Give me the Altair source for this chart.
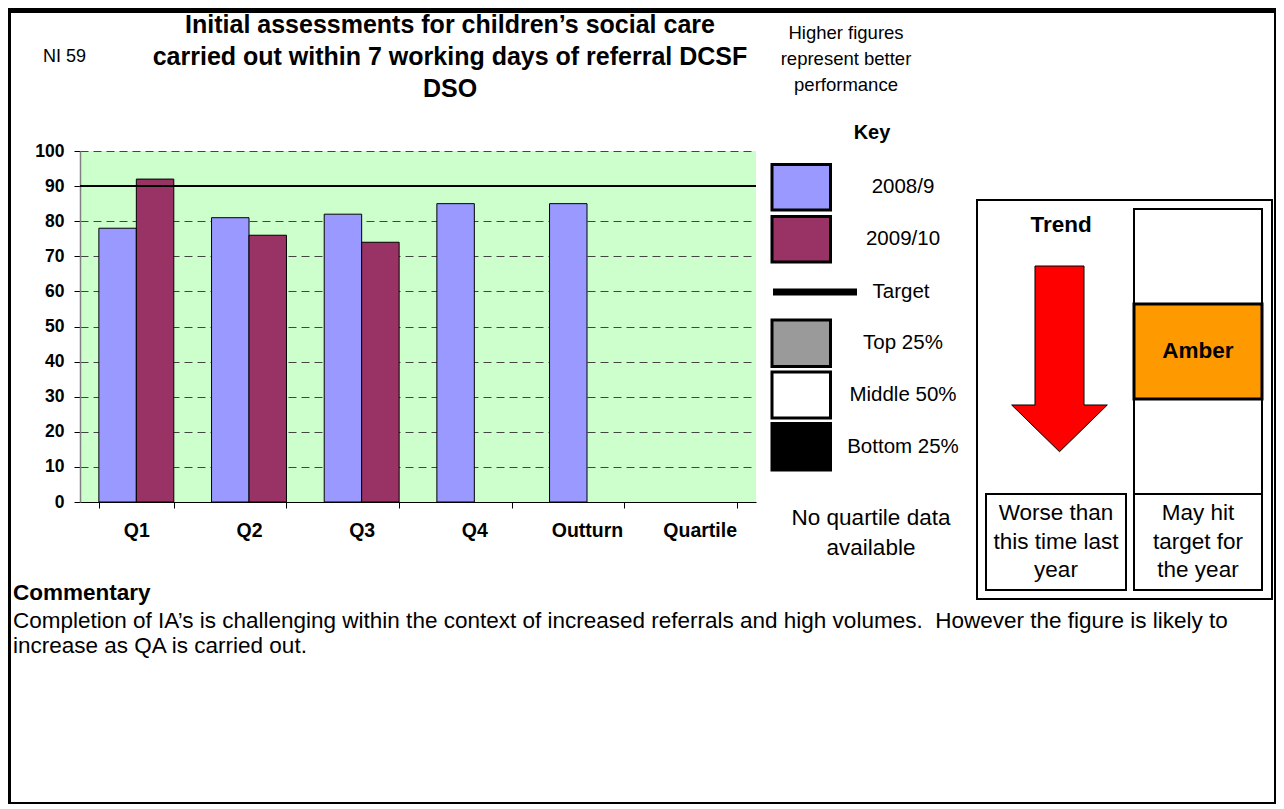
import altair as alt
import pandas as pd

# ---------------- data ----------------
categories = ["Q1", "Q2", "Q3", "Q4", "Outturn", "Quartile"]
series_names = ["2008/9", "2009/10"]
values_2008_9 = [78, 81, 82, 85, 85, None]
values_2009_10 = [92, 76, 74, None, None, None]
target_value = [90]
y_tick_values = [0, 10, 20, 30, 40, 50, 60, 70, 80, 90, 100]

title_lines = ["Initial assessments for children\u2019s social care",
               "carried out within 7 working days of referral DCSF",
               "DSO"]
indicator = "NI 59"
note_lines = ["Higher figures", "represent better", "performance"]
key_labels = ["2008/9", "2009/10", "Target", "Top 25%", "Middle 50%", "Bottom 25%"]
quartile_note = ["No quartile data", "available"]
trend_text = ["Worse than", "this time last", "year"]
rag_text = ["May hit", "target for", "the year"]
commentary_title = "Commentary"
commentary_lines = [
    "Completion of IA\u2019s is challenging within the context of increased referrals and high volumes.\u00a0 However the figure is likely to",
    "increase as QA is carried out.",
]

rows = []
for cat, a, b in zip(categories, values_2008_9, values_2009_10):
    if a is not None:
        rows.append({"period": cat, "series": series_names[0], "value": a})
    if b is not None:
        rows.append({"period": cat, "series": series_names[1], "value": b})
bars_df = pd.DataFrame(rows)

FONT = "Liberation Sans"
C1, C2 = "#9999FF", "#993366"

# plot area origin in page pixels
OX, OY = 80, 151
W, H = 676, 351
TOTAL_W, TOTAL_H = 1268, 796


def px(x):
    return x - OX


def py(y):
    return y - OY


one = alt.Data(values=[{"k": 0}])


def box(x1, y1, x2, y2, fill="white", stroke="black", sw=2):
    return alt.Chart(one).mark_rect(fill=fill, stroke=stroke, strokeWidth=sw).encode(
        x=alt.value(px(x1)), x2=alt.value(px(x2)), y=alt.value(py(y1)), y2=alt.value(py(y2)))


def label(x, y, text, size=19, weight="normal", align="center", lh=None):
    kw = dict(align=align, baseline="middle", font=FONT, fontSize=size,
              fontWeight=weight, color="black", text=text)
    if lh is not None:
        kw["lineHeight"] = lh
    return alt.Chart(one).mark_text(**kw).encode(x=alt.value(px(x)), y=alt.value(py(y)))


y_axis = alt.Axis(title=None, values=y_tick_values, tickSize=6, tickColor="black",
                  domainColor="#808080", domainWidth=1.5, labelOverlap=False,
                  labelFont=FONT, labelFontSize=17.5, labelFontWeight="bold",
                  labelColor="black", labelPadding=10,
                  grid=True, gridColor="#444444", gridDash=[8, 5], gridWidth=1)
y_scale = alt.Scale(domain=[0, 100], nice=False)

# ---------------- bar chart ----------------
bars = alt.Chart(bars_df).mark_bar(stroke="black", strokeWidth=1).encode(
    x=alt.X("period:N",
            scale=alt.Scale(domain=categories, paddingInner=0.335, paddingOuter=0.1675),
            axis=alt.Axis(title=None, labelAngle=0, tickBand="extent", tickSize=6,
                          tickColor="black", domainColor="black", domainWidth=1,
                          labelFont=FONT, labelFontSize=19.5, labelFontWeight="bold",
                          labelColor="black", labelPadding=13, grid=False)),
    xOffset=alt.XOffset("series:N", scale=alt.Scale(domain=series_names, paddingInner=0, paddingOuter=0)),
    y=alt.Y("value:Q", scale=y_scale, axis=y_axis),
    color=alt.Color("series:N", scale=alt.Scale(domain=series_names, range=[C1, C2]), legend=None),
)

target = alt.Chart(pd.DataFrame({"target": target_value})).mark_rule(
    color="black", strokeWidth=2).encode(y=alt.Y("target:Q", scale=y_scale, axis=y_axis))

layers = [bars, target]

# ---------------- page frame ----------------
layers += [
    box(8, 8, 1276, 13, fill="black", stroke="black", sw=0),
    box(8, 8, 11, 8 + TOTAL_H, fill="black", stroke="black", sw=0),
    box(1274, 8, 1276, 8 + TOTAL_H, fill="black", stroke="black", sw=0),
    box(8, 6 + TOTAL_H, 1276, 8 + TOTAL_H, fill="black", stroke="black", sw=0),
]

# ---------------- headings ----------------
layers += [
    label(43, 57, indicator, size=18, align="left"),
    label(450, 25, title_lines, size=25, weight="bold", lh=32),
    label(846, 33, note_lines, size=18.5, lh=26),
    label(872, 133, "Key", size=20, weight="bold"),
]

# ---------------- key ----------------
layers += [
    box(772, 164.5, 830.5, 210, fill=C1, sw=3),
    box(772, 216.5, 830.5, 262, fill=C2, sw=3),
    box(773, 288.5, 857, 295.5, fill="black", stroke="black", sw=0),
    box(772, 320, 830.5, 366.5, fill="#9a9a9a", sw=3),
    box(772, 372, 830.5, 418, fill="white", sw=3),
    box(772, 423.5, 830.5, 470, fill="black", sw=3),
    label(903, 187, key_labels[0], size=20.5),
    label(903, 239, key_labels[1], size=20.5),
    label(901, 292, key_labels[2], size=20.5),
    label(903, 343, key_labels[3], size=20.5),
    label(903, 394.5, key_labels[4], size=20.5),
    label(903, 447, key_labels[5], size=20.5),
    label(871, 518, quartile_note, size=22.5, lh=30),
]

# ---------------- trend / RAG panel ----------------
arrow_path = ("M -0.264 -1 L 0.264 -1 L 0.264 0.497 L 0.515 0.497 L 0 1 "
              "L -0.515 0.497 L -0.264 0.497 Z")
layers += [
    box(977, 200, 1272, 599, fill="white", sw=2),
    box(1134, 209, 1262, 304, fill="white", sw=2),
    box(1134, 399, 1262, 494, fill="white", sw=2),
    box(1134, 304, 1262, 399, fill="#FF9900", sw=3),
    box(1134, 494, 1262, 590, fill="white", sw=2),
    box(986, 494, 1126, 590, fill="white", sw=2),
    alt.Chart(one).mark_point(shape=arrow_path, filled=True, fill="#FF0000", stroke="black",
                              strokeWidth=1, opacity=1, size=185.7 ** 2).encode(
        x=alt.value(px(1059.5)), y=alt.value(py(358.85))),
    label(1061, 225, "Trend", size=22.5, weight="bold"),
    label(1198, 351, "Amber", size=22.5, weight="bold"),
    label(1056, 513, trend_text, size=22.5, lh=28.5),
    label(1198, 513, rag_text, size=22.5, lh=28.5),
]

# ---------------- commentary ----------------
layers += [
    label(13, 593, commentary_title, size=22.5, weight="bold", align="left"),
    label(13, 621, commentary_lines, size=22.5, align="left", lh=25),
]

chart = alt.layer(*layers).properties(
    width=W, height=H,
    padding={"left": OX - 8, "top": OY - 8, "right": TOTAL_W - (OX - 8) - W,
             "bottom": TOTAL_H - (OY - 8) - H},
    autosize=alt.AutoSizeParams(type="none"),
).configure(background="white").configure_view(fill="#CCFFCC", strokeWidth=0)

chart.save("out.html", embed_options={"renderer": "svg", "actions": False})
